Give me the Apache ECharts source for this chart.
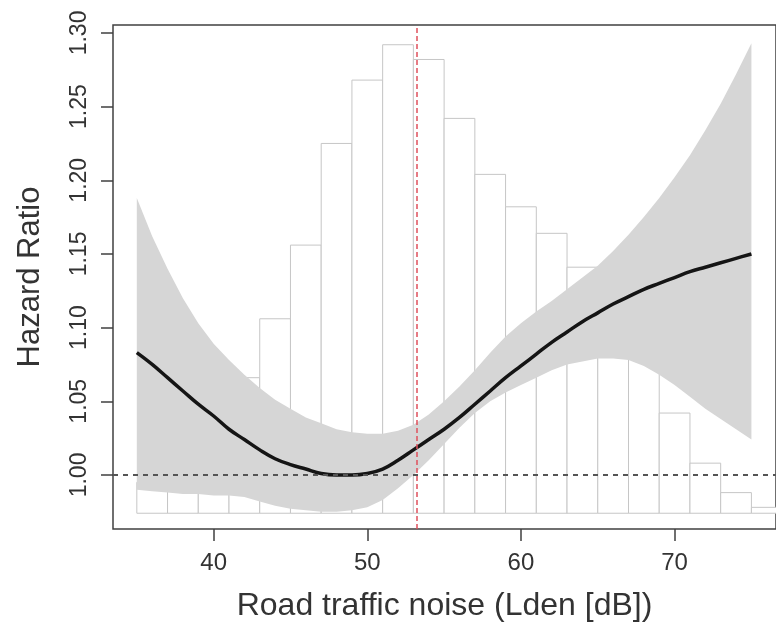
<!DOCTYPE html>
<html>
<head>
<meta charset="utf-8">
<title>Road traffic noise - Hazard Ratio</title>
<script src="https://cdn.jsdelivr.net/npm/echarts@6/dist/echarts.min.js"></script>
<style>
  html, body { margin: 0; padding: 0; background: #fff; }
  #main { width: 776px; height: 629px; }
</style>
</head>
<body>
<div id="main"></div>
<script>
var noiseX = [35, 36, 37, 38, 39, 40, 41, 42, 43, 44, 45, 46, 47, 48, 49, 50, 51, 52, 53, 54, 55,
  56, 57, 58, 59, 60, 61, 62, 63, 64, 65, 66, 67, 68, 69, 70, 71, 72, 73, 74, 75];
// hazard ratio estimate
var hrFit = [1.083, 1.075, 1.066, 1.057, 1.048, 1.040, 1.031, 1.024, 1.017, 1.011, 1.007, 1.004, 1.001,
  1.000, 1.000, 1.001, 1.004, 1.010, 1.017, 1.024, 1.031, 1.039, 1.048, 1.057, 1.066, 1.074, 1.082,
  1.090, 1.097, 1.104, 1.110, 1.116, 1.121, 1.126, 1.130, 1.134, 1.138, 1.141, 1.144, 1.147, 1.150];
// confidence band
var hrUpper = [1.188, 1.162, 1.140, 1.120, 1.103, 1.089, 1.078, 1.068, 1.059, 1.051, 1.045, 1.039, 1.035,
  1.031, 1.029, 1.028, 1.028, 1.030, 1.034, 1.041, 1.050, 1.060, 1.071, 1.083, 1.094, 1.103, 1.111,
  1.118, 1.126, 1.134, 1.142, 1.152, 1.163, 1.175, 1.188, 1.202, 1.217, 1.234, 1.252, 1.272, 1.293];
var hrLower = [0.990, 0.989, 0.988, 0.987, 0.987, 0.986, 0.986, 0.985, 0.982, 0.979, 0.977, 0.976, 0.975,
  0.975, 0.976, 0.978, 0.983, 0.991, 1.000, 1.010, 1.021, 1.032, 1.042, 1.050, 1.056, 1.061, 1.066,
  1.071, 1.075, 1.077, 1.079, 1.079, 1.078, 1.074, 1.068, 1.061, 1.053, 1.045, 1.038, 1.031, 1.024];

// histogram of exposure (2 dB bins), heights already in hazard-ratio units
var binStart = [35, 37, 39, 41, 43, 45, 47, 49, 51, 53, 55, 57, 59, 61, 63, 65, 67, 69, 71, 73, 75];
var binTop = [0.995, 1.010, 1.035, 1.066, 1.106, 1.156, 1.225, 1.268, 1.292, 1.282, 1.242, 1.204,
  1.182, 1.164, 1.141, 1.115, 1.090, 1.042, 1.008, 0.988, 0.978];
var binWidth = 2;
var histBase = 0.974;

var medianNoise = 53.2;
var xTicks = [40, 50, 60, 70];
var yTicks = [1.00, 1.05, 1.10, 1.15, 1.20, 1.25, 1.30];

var chart = echarts.init(document.getElementById('main'));

var bins = binStart.map(function (s, i) { return [s, s + binWidth, binTop[i]]; });
var fitData = noiseX.map(function (x, i) { return [x, hrFit[i]]; });

var font = 'Liberation Sans, Arial, sans-serif';

chart.setOption({
  animation: false,
  backgroundColor: '#fff',
  grid: {
    left: 113, top: 25, right: -4, bottom: 100,
    show: true, borderColor: '#404040', borderWidth: 1.5, backgroundColor: 'transparent'
  },
  xAxis: {
    type: 'value', min: 33.45, max: 76.6,
    name: 'Road traffic noise (Lden [dB])', nameLocation: 'middle', nameGap: 61,
    nameTextStyle: { fontFamily: font, fontSize: 32, color: '#333' },
    axisLine: { show: false },
    axisTick: { show: true, inside: false, length: 12, customValues: xTicks,
      lineStyle: { color: '#404040', width: 1.5 } },
    axisLabel: { customValues: xTicks, margin: 22, fontFamily: font, fontSize: 24, color: '#333' },
    splitLine: { show: false }
  },
  yAxis: {
    type: 'value', min: 0.9633, max: 1.3054,
    name: 'Hazard Ratio', nameLocation: 'middle', nameGap: 67,
    nameTextStyle: { fontFamily: font, fontSize: 31, color: '#333' },
    axisLine: { show: false },
    axisTick: { show: true, inside: false, length: 12, customValues: yTicks,
      lineStyle: { color: '#404040', width: 1.5 } },
    axisLabel: {
      customValues: yTicks, rotate: 90, margin: 22,
      fontFamily: font, fontSize: 23, color: '#333',
      formatter: function (v) { return v.toFixed(2); }
    },
    splitLine: { show: false }
  },
  series: [
    {
      // exposure histogram
      type: 'custom', z: 1, clip: true,
      data: bins,
      encode: { x: [0, 1], y: 2 },
      renderItem: function (params, api) {
        var p0 = api.coord([api.value(0), api.value(2)]);
        var p1 = api.coord([api.value(1), histBase]);
        return {
          type: 'rect',
          shape: { x: p0[0], y: p0[1], width: p1[0] - p0[0], height: p1[1] - p0[1] },
          style: { fill: '#fff', stroke: '#c6c6c6', lineWidth: 1 }
        };
      }
    },
    {
      // confidence band as one polygon
      type: 'custom', z: 2, clip: true,
      data: [0],
      renderItem: function (params, api) {
        var pts = [];
        for (var i = 0; i < noiseX.length; i++) pts.push(api.coord([noiseX[i], hrUpper[i]]));
        for (var j = noiseX.length - 1; j >= 0; j--) pts.push(api.coord([noiseX[j], hrLower[j]]));
        return {
          type: 'polygon',
          shape: { points: pts },
          style: { fill: '#d6d6d6', stroke: null }
        };
      }
    },
    {
      type: 'line', z: 3,
      data: fitData,
      smooth: 0.4, showSymbol: false,
      lineStyle: { color: '#151515', width: 3.5 },
      markLine: {
        silent: true, symbol: ['none', 'none'], label: { show: false },
        data: [
          { yAxis: 1, lineStyle: { color: '#555', width: 2, type: [5, 5] } },
          { xAxis: medianNoise, lineStyle: { color: '#e0505c', width: 1.5, type: [5, 3] } }
        ]
      }
    }
  ]
});
</script>
</body>
</html>
